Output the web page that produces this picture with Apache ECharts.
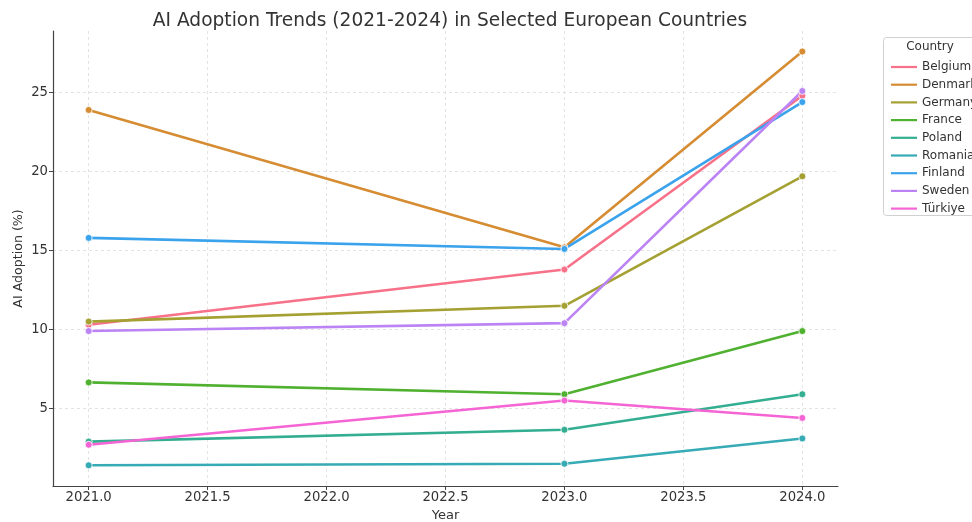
<!DOCTYPE html>
<html>
<head>
<meta charset="utf-8">
<script src="https://cdn.jsdelivr.net/npm/echarts@6/dist/echarts.min.js"></script>
<style>
  html, body { margin: 0; padding: 0; background: #fff; }
  #chart { width: 972px; height: 522px; }
</style>
</head>
<body>
<div id="chart"></div>
<script>
// data
var years = [2021, 2023, 2024];
var countries = ["Belgium", "Denmark", "Germany", "France", "Poland", "Romania", "Finland", "Sweden", "Türkiye"];
var belgium = [10.3, 13.8, 24.8];
var denmark = [23.9, 15.2, 27.6];
var germany = [10.5, 11.5, 19.7];
var france = [6.65, 5.9, 9.9];
var poland = [2.9, 3.65, 5.9];
var romania = [1.4, 1.5, 3.1];
var finland = [15.8, 15.1, 24.4];
var sweden = [9.9, 10.4, 25.1];
var turkiye = [2.7, 5.5, 4.4];
var xTicks = [2021, 2021.5, 2022, 2022.5, 2023, 2023.5, 2024];
var yTicks = [5, 10, 15, 20, 25];

var values = [belgium, denmark, germany, france, poland, romania, finland, sweden, turkiye];
var colors = ["#f77189", "#d58c32", "#a4a031", "#50b131", "#34ae91", "#37abb5", "#3ba3ec", "#bb83f4", "#f564d4"];

var chart = echarts.init(document.getElementById("chart"));

var gridLine = { show: true, lineStyle: { color: "#dcdcdc", width: 0.8, type: [3, 3] } };

chart.setOption({
  animation: false,
  color: colors,
  textStyle: { fontFamily: "DejaVu Sans" },
  title: {
    text: "AI Adoption Trends (2021-2024) in Selected European Countries",
    left: 445,
    textAlign: "center",
    top: 7,
    textStyle: { fontSize: 18.6, fontWeight: "normal", color: "#333" }
  },
  grid: { left: 53, right: 134, top: 31, bottom: 36, outerBoundsMode: "none", containLabel: false },
  xAxis: {
    type: "value",
    min: 2020.85,
    max: 2024.15,
    name: "Year",
    nameLocation: "middle",
    nameGap: 23,
    nameTextStyle: { fontSize: 13, color: "#333" },
    axisLine: { show: true, onZero: false, lineStyle: { color: "#444", width: 1.2 } },
    axisTick: { show: true, customValues: xTicks, length: 4, lineStyle: { color: "#444" } },
    axisLabel: {
      customValues: xTicks, fontSize: 13.2, color: "#333", margin: 5,
      formatter: function (v) { return v.toFixed(1); }
    },
    splitLine: gridLine
  },
  yAxis: {
    type: "value",
    min: 0.09,
    max: 28.9,
    name: "AI Adoption (%)",
    nameLocation: "middle",
    nameGap: 28,
    nameMoveOverlap: false,
    nameTextStyle: { fontSize: 12.6, color: "#333" },
    axisLine: { show: true, lineStyle: { color: "#444", width: 1.2 } },
    axisTick: { show: true, customValues: yTicks, length: 4, lineStyle: { color: "#444" } },
    axisLabel: { customValues: yTicks, fontSize: 13.2, color: "#333", margin: 5 },
    splitLine: gridLine
  },
  legend: {
    orient: "vertical",
    left: 886,
    top: 56,
    icon: "rect",
    itemWidth: 26,
    itemHeight: 2.2,
    itemGap: 5.7,
    itemStyle: { borderWidth: 0 },
    textStyle: { fontSize: 12, color: "#333" },
    data: countries
  },
  graphic: [
    {
      type: "rect",
      shape: { x: 883.5, y: 37.5, width: 100, height: 178, r: 3 },
      style: { fill: "#fff", stroke: "#d0d0d0", lineWidth: 1 },
      z: 0
    },
    {
      type: "text",
      x: 930, y: 47,
      style: { text: "Country", fontSize: 12, fill: "#333", align: "center", verticalAlign: "middle", fontFamily: "DejaVu Sans" },
      z: 1
    }
  ],
  series: countries.map(function (name, i) {
    return {
      name: name,
      type: "line",
      data: years.map(function (y, j) { return [y, values[i][j]]; }),
      symbol: "circle",
      symbolSize: 7,
      showSymbol: true,
      lineStyle: { width: 2.6 },
      itemStyle: { borderColor: "#fff", borderWidth: 0.8 },
      emphasis: { disabled: true }
    };
  })
});
</script>
</body>
</html>
